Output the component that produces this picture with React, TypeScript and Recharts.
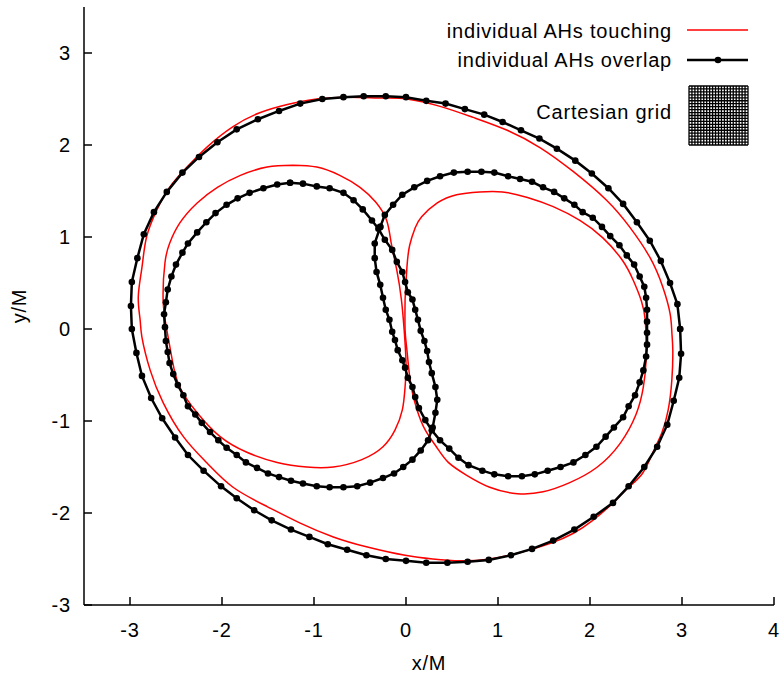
import React from "react";
import { ScatterChart, Scatter, XAxis, YAxis, Legend, Label } from "recharts";

// apparent horizon cross sections (units of M)
const overlapCommon: [number, number][] = [
  [2.98, 0], [2.95, 0.27], [2.87, 0.5], [2.77, 0.74], [2.65, 0.96], [2.51, 1.16], [2.36, 1.36],
  [2.2, 1.53], [2.02, 1.69], [1.84, 1.83], [1.64, 1.96], [1.45, 2.07], [1.25, 2.16], [1.05, 2.25],
  [0.85, 2.33], [0.64, 2.39], [0.43, 2.45], [0.22, 2.48], [0, 2.52], [-0.22, 2.53], [-0.46, 2.53],
  [-0.68, 2.52], [-0.91, 2.5], [-1.15, 2.45], [-1.38, 2.37], [-1.61, 2.28], [-1.84, 2.17],
  [-2.05, 2.03], [-2.25, 1.87], [-2.43, 1.7], [-2.6, 1.49], [-2.74, 1.27], [-2.85, 1.03],
  [-2.92, 0.77], [-2.98, 0.51], [-2.99, 0.25], [-2.98, 0], [-2.93, -0.26], [-2.87, -0.51],
  [-2.77, -0.75], [-2.65, -0.97], [-2.51, -1.18], [-2.37, -1.37], [-2.2, -1.54], [-2.01, -1.71],
  [-1.84, -1.84], [-1.65, -1.97], [-1.46, -2.08], [-1.25, -2.18], [-1.05, -2.26], [-0.85, -2.34],
  [-0.64, -2.4], [-0.43, -2.46], [-0.22, -2.5], [0, -2.52], [0.22, -2.54], [0.45, -2.54],
  [0.67, -2.53], [0.9, -2.51], [1.14, -2.46], [1.37, -2.39], [1.6, -2.3], [1.83, -2.18],
  [2.04, -2.04], [2.25, -1.89], [2.42, -1.71], [2.59, -1.5], [2.73, -1.28], [2.84, -1.04],
  [2.91, -0.78], [2.97, -0.53], [2.99, -0.27], [2.98, 0],
];

const overlapLeft: [number, number][] = [
  [-1.26, 1.59], [-1.12, 1.58], [-0.97, 1.55], [-0.83, 1.53], [-0.68, 1.48], [-0.57, 1.4],
  [-0.47, 1.3], [-0.37, 1.18], [-0.3, 1.09], [-0.23, 0.97], [-0.15, 0.86], [-0.1, 0.73],
  [-0.04, 0.62], [-0.01, 0.51], [0.02, 0.4], [0.07, 0.32], [0.1, 0.21], [0.13, 0.1], [0.16, -0.02],
  [0.2, -0.13], [0.23, -0.24], [0.25, -0.36], [0.28, -0.48], [0.32, -0.63], [0.34, -0.77],
  [0.32, -0.91], [0.29, -1.07], [0.24, -1.21], [0.16, -1.32], [0.07, -1.42], [-0.03, -1.5],
  [-0.13, -1.57], [-0.25, -1.62], [-0.39, -1.67], [-0.53, -1.71], [-0.68, -1.72], [-0.83, -1.72],
  [-0.97, -1.71], [-1.12, -1.68], [-1.25, -1.65], [-1.38, -1.61], [-1.5, -1.57], [-1.62, -1.51],
  [-1.74, -1.45], [-1.84, -1.37], [-1.95, -1.29], [-2.04, -1.21], [-2.13, -1.12], [-2.22, -1.02],
  [-2.29, -0.93], [-2.37, -0.84], [-2.42, -0.72], [-2.48, -0.61], [-2.53, -0.49], [-2.57, -0.37],
  [-2.59, -0.25], [-2.61, -0.13], [-2.62, 0.02], [-2.63, 0.16], [-2.61, 0.29], [-2.59, 0.43],
  [-2.55, 0.57], [-2.5, 0.7], [-2.43, 0.83], [-2.37, 0.93], [-2.27, 1.05], [-2.17, 1.16],
  [-2.07, 1.26], [-1.95, 1.35], [-1.83, 1.42], [-1.7, 1.48], [-1.55, 1.53], [-1.4, 1.57],
  [-1.26, 1.59],
];

const overlapRight: [number, number][] = [
  [-0.28, 1.11], [-0.23, 1.24], [-0.14, 1.35], [-0.04, 1.46], [0.09, 1.54], [0.23, 1.61],
  [0.37, 1.66], [0.52, 1.7], [0.67, 1.71], [0.82, 1.71], [0.96, 1.7], [1.11, 1.66], [1.24, 1.63],
  [1.37, 1.6], [1.49, 1.54], [1.61, 1.49], [1.72, 1.42], [1.83, 1.35], [1.92, 1.27], [2.03, 1.21],
  [2.13, 1.11], [2.22, 1.01], [2.32, 0.91], [2.4, 0.8], [2.48, 0.7], [2.54, 0.57], [2.59, 0.46],
  [2.61, 0.34], [2.62, 0.21], [2.62, 0.08], [2.62, -0.04], [2.62, -0.17], [2.61, -0.3],
  [2.58, -0.45], [2.54, -0.58], [2.49, -0.72], [2.42, -0.84], [2.36, -0.96], [2.26, -1.07],
  [2.17, -1.17], [2.07, -1.28], [1.95, -1.37], [1.82, -1.45], [1.68, -1.5], [1.54, -1.54],
  [1.4, -1.58], [1.26, -1.6], [1.11, -1.6], [0.96, -1.58], [0.83, -1.54], [0.68, -1.48],
  [0.57, -1.4], [0.47, -1.3], [0.37, -1.21], [0.28, -1.1], [0.21, -0.99], [0.14, -0.86],
  [0.1, -0.74], [0.07, -0.63], [0.02, -0.53], [-0.01, -0.42], [-0.04, -0.34], [-0.09, -0.23],
  [-0.12, -0.12], [-0.15, -0.03], [-0.18, 0.1], [-0.22, 0.21], [-0.25, 0.34], [-0.28, 0.48],
  [-0.32, 0.62], [-0.34, 0.77], [-0.34, 0.93], [-0.28, 1.11],
];

const touchingCommon: [number, number][] = [
  [-2.38, 1.76], [-2.16, 1.98], [-1.88, 2.2], [-1.59, 2.35], [-1.29, 2.44], [-0.97, 2.5],
  [-0.61, 2.52], [-0.25, 2.51], [0.01, 2.5], [0.37, 2.42], [0.73, 2.3], [1.1, 2.16], [1.46, 1.97],
  [1.82, 1.71], [2.18, 1.4], [2.43, 1.11], [2.65, 0.78], [2.79, 0.46], [2.87, 0.17], [2.89, -0.04],
  [2.9, -0.23], [2.89, -0.55], [2.85, -0.88], [2.78, -1.13], [2.68, -1.35], [2.57, -1.57],
  [2.41, -1.73], [2.25, -1.89], [2.03, -2.08], [1.82, -2.22], [1.57, -2.33], [1.24, -2.43],
  [0.91, -2.5], [0.59, -2.52], [0.29, -2.5], [-0.01, -2.46], [-0.42, -2.37], [-0.79, -2.26],
  [-1.15, -2.11], [-1.51, -1.93], [-1.88, -1.72], [-2.16, -1.46], [-2.42, -1.17],
  [-2.64, -0.8], [-2.78, -0.45], [-2.87, -0.09], [-2.89, 0.1], [-2.91, 0.35], [-2.87, 0.67],
  [-2.82, 1.0], [-2.71, 1.29], [-2.57, 1.54], [-2.38, 1.76],
];

const touchingLeft: [number, number][] = [
  [-1.23, 1.78], [-0.97, 1.76], [-0.72, 1.67], [-0.5, 1.54], [-0.33, 1.38], [-0.21, 1.18],
  [-0.16, 0.93], [-0.1, 0.64], [-0.05, 0.32], [-0.02, -0.01], [0, -0.37], [-0.01, -0.63],
  [-0.04, -0.88], [-0.12, -1.1], [-0.25, -1.28], [-0.48, -1.42], [-0.79, -1.5], [-1.08, -1.5],
  [-1.4, -1.45], [-1.73, -1.34], [-2.02, -1.17], [-2.27, -0.91], [-2.46, -0.63], [-2.54, -0.34],
  [-2.6, -0.01], [-2.64, 0.32], [-2.62, 0.72], [-2.57, 0.93], [-2.46, 1.15], [-2.27, 1.37],
  [-2.05, 1.54], [-1.8, 1.67], [-1.51, 1.76], [-1.23, 1.78],
];

const touchingRight: [number, number][] = [
  [-0.01, 0.32], [0.01, 0.67], [0.04, 0.91], [0.1, 1.1], [0.17, 1.22], [0.34, 1.37], [0.55, 1.46],
  [0.8, 1.49], [1.05, 1.49], [1.32, 1.43], [1.6, 1.33], [1.89, 1.18], [2.14, 0.99], [2.35, 0.75],
  [2.47, 0.53], [2.56, 0.3], [2.6, 0.1], [2.61, -0.12], [2.61, -0.34], [2.58, -0.63],
  [2.5, -0.93], [2.33, -1.24], [2.08, -1.5], [1.78, -1.67], [1.49, -1.77], [1.21, -1.79],
  [0.91, -1.72], [0.66, -1.59], [0.46, -1.45], [0.33, -1.28], [0.21, -1.1], [0.12, -0.88],
  [0.05, -0.59], [0.01, -0.23], [-0.01, -0.01], [-0.01, 0.32],
];

const X_TICKS = [-3, -2, -1, 0, 1, 2, 3, 4];
const Y_TICKS = [-3, -2, -1, 0, 1, 2, 3];

const RED = "#ff0000";
const BLACK = "#000000";
const FONT = "'Liberation Sans', Arial, Helvetica, sans-serif";
const textStyle = { fontFamily: FONT, fontSize: 20, letterSpacing: 0.8, fill: BLACK };

const toPts = (arr: [number, number][]) => arr.map(([x, y]) => ({ x, y }));

const TICK_LEN = 8;

const BottomTick = (props: any) => {
  const { x, y, payload } = props;
  return (
    <g>
      <line x1={x} y1={y} x2={x} y2={y - TICK_LEN} stroke={BLACK} strokeWidth={1.5} />
      <text x={x} y={y + 32} textAnchor="middle" style={textStyle}>{payload.value}</text>
    </g>
  );
};

const TopTick = (props: any) => (
  <line x1={props.x} y1={props.y} x2={props.x} y2={props.y + TICK_LEN} stroke={BLACK} strokeWidth={1.5} />
);

const LeftTick = (props: any) => {
  const { x, y, payload } = props;
  return (
    <g>
      <line x1={x} y1={y} x2={x + TICK_LEN} y2={y} stroke={BLACK} strokeWidth={1.5} />
      <text x={x - 13} y={y + 7} textAnchor="end" style={textStyle}>{payload.value}</text>
    </g>
  );
};

const RightTick = (props: any) => (
  <line x1={props.x} y1={props.y} x2={props.x - TICK_LEN} y2={props.y} stroke={BLACK} strokeWidth={1.5} />
);

const dot = (p: any) => <circle cx={p.cx} cy={p.cy} r={3.3} fill={BLACK} />;
const noDot = () => <g />;

// gnuplot style key, top right inside the frame
const ChartKey = () => {
  const lines = Array.from({ length: 21 }, (_, i) => i);
  const gx0 = 689, gy0 = 86, gs = 59 / 20;
  return (
    <svg width={779} height={160} style={{ display: "block" }}>
      <text x={672} y={38} textAnchor="end" style={textStyle}>individual AHs touching</text>
      <line x1={687} x2={748} y1={30} y2={30} stroke={RED} strokeWidth={1.5} />
      <text x={672} y={67} textAnchor="end" style={textStyle}>individual AHs overlap</text>
      <line x1={687} x2={748} y1={60} y2={60} stroke={BLACK} strokeWidth={2.5} />
      <circle cx={718} cy={60} r={3.3} fill={BLACK} />
      <text x={672} y={119} textAnchor="end" style={textStyle}>Cartesian grid</text>
      {lines.map((i) => (
        <line key={`v${i}`} x1={gx0 + i * gs} x2={gx0 + i * gs} y1={gy0} y2={gy0 + 59} stroke={BLACK} strokeWidth={1.3} />
      ))}
      {lines.map((i) => (
        <line key={`h${i}`} x1={gx0} x2={gx0 + 59} y1={gy0 + i * gs} y2={gy0 + i * gs} stroke={BLACK} strokeWidth={1.3} />
      ))}
    </svg>
  );
};

export default function App() {
  const axisLine = { stroke: BLACK, strokeWidth: 1.5 };
  const redLine = { stroke: RED, strokeWidth: 1.5 };
  const blackLine = { stroke: BLACK, strokeWidth: 2.5 };
  return (
    <div style={{ position: "absolute", left: 0, top: 0, background: "#fff" }}>
      <ScatterChart width={779} height={677} margin={{ top: 7, right: 5, bottom: 0, left: 0 }}>
        <XAxis
          xAxisId="b" type="number" dataKey="x" domain={[-3.5, 4]} ticks={X_TICKS} interval={0}
          allowDataOverflow height={72} tickSize={0} tickMargin={0} tickLine={false}
          tick={<BottomTick />} axisLine={axisLine}
        >
          <Label
            content={(p: any) => {
              const { x, y, width, height } = p.viewBox;
              return <text x={x + width / 2} y={y + height - 7} textAnchor="middle" style={textStyle}>x/M</text>;
            }}
          />
        </XAxis>
        <XAxis
          xAxisId="t" orientation="top" type="number" dataKey="x" domain={[-3.5, 4]} ticks={X_TICKS}
          interval={0} allowDataOverflow height={0} tickSize={0} tickMargin={0} tickLine={false}
          tick={<TopTick />} axisLine={axisLine}
        />
        <YAxis
          yAxisId="l" type="number" dataKey="y" domain={[-3, 3.5]} ticks={Y_TICKS} interval={0}
          allowDataOverflow width={84} tickSize={0} tickMargin={0} tickLine={false}
          tick={<LeftTick />} axisLine={axisLine}
        >
          <Label
            content={(p: any) => {
              const { x, y, height } = p.viewBox;
              const cx = x + 19, cy = y + height / 2;
              return (
                <text x={cx} y={cy} textAnchor="middle" dominantBaseline="central"
                  transform={`rotate(-90 ${cx} ${cy})`} style={textStyle}>y/M</text>
              );
            }}
          />
        </YAxis>
        <YAxis
          yAxisId="r" orientation="right" type="number" dataKey="y" domain={[-3, 3.5]} ticks={Y_TICKS}
          interval={0} allowDataOverflow width={0} tickSize={0} tickMargin={0} tickLine={false}
          tick={<RightTick />} axisLine={axisLine}
        />

        <Scatter name="individual AHs touching" data={toPts(touchingCommon)} xAxisId="b" yAxisId="l"
          fill={RED} line={redLine} lineType="joint" lineJointType="natural" shape={noDot} isAnimationActive={false} />
        <Scatter name="touching left" data={toPts(touchingLeft)} xAxisId="b" yAxisId="l" legendType="none"
          fill={RED} line={redLine} lineType="joint" lineJointType="natural" shape={noDot} isAnimationActive={false} />
        <Scatter name="touching right" data={toPts(touchingRight)} xAxisId="b" yAxisId="l" legendType="none"
          fill={RED} line={redLine} lineType="joint" lineJointType="natural" shape={noDot} isAnimationActive={false} />

        <Scatter name="individual AHs overlap" data={toPts(overlapCommon)} xAxisId="b" yAxisId="l"
          fill={BLACK} line={blackLine} lineType="joint" shape={dot} isAnimationActive={false} />
        <Scatter name="overlap left" data={toPts(overlapLeft)} xAxisId="b" yAxisId="l" legendType="none"
          fill={BLACK} line={blackLine} lineType="joint" shape={dot} isAnimationActive={false} />
        <Scatter name="overlap right" data={toPts(overlapRight)} xAxisId="b" yAxisId="l" legendType="none"
          fill={BLACK} line={blackLine} lineType="joint" shape={dot} isAnimationActive={false} />

        <Legend
          layout="horizontal" verticalAlign="middle" content={() => <ChartKey />}
          wrapperStyle={{ top: 0, left: 0, width: 779, height: 160, pointerEvents: "none" }}
        />
      </ScatterChart>
    </div>
  );
}
